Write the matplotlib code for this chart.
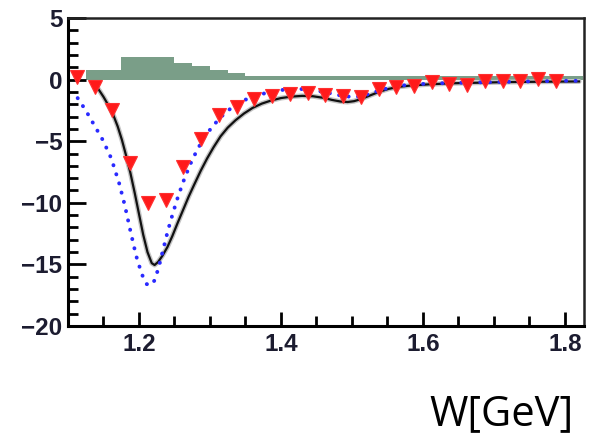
import numpy as np
import matplotlib.pyplot as plt
from matplotlib.ticker import MultipleLocator, FixedLocator

# Measured points (downward triangles)
w_data = [1.1125, 1.1375, 1.1625, 1.1875, 1.2125, 1.2375, 1.2625, 1.2875,
          1.3125, 1.3375, 1.3625, 1.3875, 1.4125, 1.4375, 1.4625, 1.4875,
          1.5125, 1.5375, 1.5625, 1.5875, 1.6125, 1.6375, 1.6625, 1.6875,
          1.7125, 1.7375, 1.7625, 1.7875]
y_data = [0.2, -0.6, -2.5, -6.8, -10.0, -9.8, -7.1, -4.8,
          -2.9, -2.2, -1.55, -1.35, -1.15, -1.1, -1.25, -1.35,
          -1.45, -0.75, -0.6, -0.55, -0.2, -0.35, -0.45, -0.15,
          -0.15, -0.15, 0.05, -0.1]

# Model curve, solid black
w_solid = [1.142, 1.150, 1.157, 1.163, 1.170, 1.176, 1.182, 1.188, 1.194,
           1.200, 1.206, 1.212, 1.218, 1.222, 1.227, 1.233, 1.240, 1.247,
           1.254, 1.262, 1.270, 1.278, 1.287, 1.296, 1.305, 1.315, 1.325,
           1.336, 1.348, 1.360, 1.373, 1.386, 1.400, 1.415, 1.430, 1.445,
           1.460, 1.472, 1.484, 1.494, 1.503, 1.513, 1.525, 1.538, 1.552,
           1.567, 1.585, 1.61, 1.64, 1.68, 1.72, 1.77, 1.82]
y_solid = [-0.7, -1.4, -2.1, -2.75, -3.8, -4.9, -6.2, -7.6, -9.2,
           -10.9, -12.6, -14.0, -14.9, -15.05, -14.8, -14.3, -13.6, -12.7,
           -11.7, -10.6, -9.5, -8.5, -7.4, -6.4, -5.5, -4.6, -3.9,
           -3.3, -2.75, -2.3, -1.95, -1.7, -1.5, -1.38, -1.32, -1.35,
           -1.48, -1.65, -1.78, -1.82, -1.75, -1.58, -1.3, -1.0, -0.75,
           -0.58, -0.47, -0.38, -0.3, -0.25, -0.2, -0.17, -0.15]

# Model curve, blue dotted
w_dot = [1.1136, 1.125, 1.137, 1.149, 1.161, 1.172, 1.180, 1.188, 1.196,
         1.204, 1.211, 1.216, 1.222, 1.228, 1.234, 1.241, 1.248, 1.255,
         1.263, 1.272, 1.282, 1.293, 1.305, 1.318, 1.332, 1.347, 1.362,
         1.378, 1.394, 1.410, 1.425, 1.440, 1.455, 1.470, 1.485, 1.498,
         1.510, 1.522, 1.535, 1.550, 1.567, 1.585, 1.61, 1.65, 1.70,
         1.75, 1.80, 1.82]
y_dot = [-1.5, -2.5, -3.7, -4.9, -6.4, -8.4, -10.2, -12.3, -14.3,
         -15.8, -16.6, -16.7, -16.3, -15.2, -13.8, -12.2, -10.8, -9.5,
         -8.2, -6.9, -5.7, -4.6, -3.7, -2.9, -2.2, -1.7, -1.35,
         -1.1, -0.9, -0.78, -0.75, -0.82, -0.95, -1.12, -1.3, -1.4,
         -1.38, -1.2, -0.95, -0.7, -0.5, -0.4, -0.32, -0.26, -0.2,
         -0.15, -0.1, -0.1]

# Histogram (bin left edges, width 0.025)
hist_edges = [1.125, 1.15, 1.175, 1.2, 1.225, 1.25, 1.275, 1.3, 1.325,
              1.35, 1.375, 1.4, 1.425, 1.45, 1.475, 1.5, 1.525, 1.55,
              1.575, 1.6, 1.625, 1.65, 1.675, 1.7, 1.725, 1.75, 1.775, 1.8]
hist_vals = [0.75, 0.75, 1.85, 1.85, 1.85, 1.35, 1.1, 0.8, 0.5,
             0.3, 0.3, 0.3, 0.3, 0.3, 0.3, 0.3, 0.3, 0.3,
             0.3, 0.3, 0.3, 0.3, 0.3, 0.3, 0.3, 0.3, 0.3, 0.3]
hist_width = 0.025

x_ticks = [1.2, 1.4, 1.6, 1.8]
y_ticks = [5, 0, -5, -10, -15, -20]

fig = plt.figure(figsize=(5.94, 4.37), dpi=100)
ax = fig.add_axes([68 / 594, 1 - 326 / 437, (584 - 68) / 594, (326 - 18) / 437])

ax.bar(hist_edges, hist_vals, width=hist_width, align='edge',
       color='#7a9e88', edgecolor='none', zorder=1)

ax.plot(w_solid, y_solid, color='#c4c4c4', lw=3.6, solid_joinstyle='round',
        solid_capstyle='round', zorder=2)
ax.plot(w_solid, y_solid, color='#111111', lw=1.6, solid_joinstyle='round', zorder=3)
ax.plot(w_dot, y_dot, color='#2a2aff', lw=2.8, linestyle=(0, (0.05, 2.4)),
        dash_capstyle='round', zorder=4)
ax.plot(w_data, y_data, linestyle='none', marker='v', ms=10,
        color='#ff1a1a', mec='#ff3030', mew=0.8, zorder=5)

ax.set_xlim(1.1, 1.827)
ax.set_ylim(-20, 5)

ax.xaxis.set_major_locator(FixedLocator(x_ticks))
ax.yaxis.set_major_locator(FixedLocator(y_ticks))
ax.xaxis.set_minor_locator(MultipleLocator(0.05))
ax.yaxis.set_minor_locator(MultipleLocator(1))

tick_font = dict(family='Liberation Sans', weight='bold', size=17.5)
ax.set_xticklabels([f'{v:.1f}' for v in x_ticks], fontdict=tick_font, color='#1c1c30')
ax.set_yticklabels([f'{v}'.replace('-', '\u2212') for v in y_ticks],
                   fontdict=tick_font, color='#1c1c30')

ax.tick_params(axis='both', which='both', direction='in', top=False, right=False,
               color='black', width=2.0)
ax.tick_params(axis='y', which='major', length=13, pad=4)
ax.tick_params(axis='y', which='minor', length=7)
ax.tick_params(axis='x', which='major', length=10, pad=5)
ax.tick_params(axis='x', which='minor', length=7)

for side in ['left', 'bottom']:
    ax.spines[side].set_linewidth(2.2)
    ax.spines[side].set_color('black')
for side in ['top', 'right']:
    ax.spines[side].set_linewidth(1.8)
    ax.spines[side].set_color('#222222')

fig.text(574 / 594, 1 - 425 / 437, 'W[GeV]', family='Open Sans', size=30,
         ha='right', va='baseline', color='black')

fig.savefig('out.png', dpi=100)
